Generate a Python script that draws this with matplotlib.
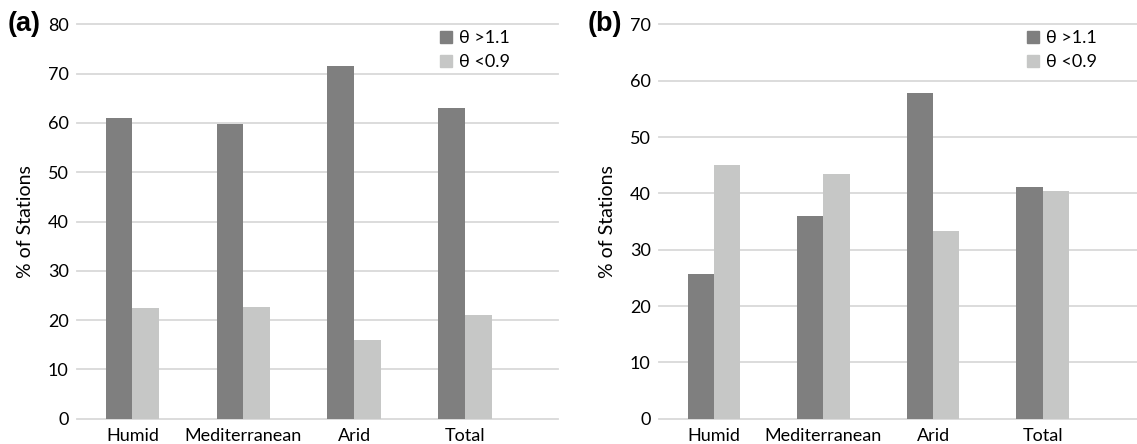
import matplotlib.pyplot as plt
import numpy as np
from matplotlib.patches import Patch

plt.rcParams['font.family'] = ['Lato', 'DejaVu Sans']

categories = ["Humid", "Mediterranean", "Arid", "Total"]
labels = ["\u03b8 >1.1", "\u03b8 <0.9"]

a_high = [61.1, 59.8, 71.5, 63.1]
a_low = [22.5, 22.6, 16.0, 21.1]
b_high = [25.7, 35.9, 57.9, 41.2]
b_low = [45.0, 43.5, 33.3, 40.5]

dark = "#7f7f7f"
light = "#c6c7c6"
grid_c = "#d9d9d9"


def draw(ax, high, low, ymax, xmax, tag, tag_x, leg_x):
    x = np.arange(len(categories))
    w = 0.24
    ax.bar(x - w / 2, high, w, color=dark, zorder=3)
    ax.bar(x + w / 2, low, w, color=light, zorder=3)
    ax.set_ylim(0, ymax)
    ax.set_xlim(-0.5, xmax)
    ax.set_yticks(range(0, ymax + 1, 10))
    ax.set_xticks(x)
    ax.set_xticklabels(categories, fontsize=13)
    ax.tick_params(axis="y", labelsize=13, length=0, pad=6)
    ax.tick_params(axis="x", length=0, pad=7)
    for s in ax.spines.values():
        s.set_visible(False)
    for v in range(0, ymax + 1, 10):
        ax.axhline(v, color=grid_c, lw=1.3, zorder=1, clip_on=False)
    ax.set_ylabel("% of Stations", fontsize=14, labelpad=10)
    ax.text(tag_x, 1.0, tag, transform=ax.transAxes, fontsize=19.5,
            fontweight="bold", ha="left", va="center",
            family=["Liberation Sans", "DejaVu Sans"])
    handles = [Patch(color=dark), Patch(color=light)]
    ax.legend(handles, labels, loc="upper left", bbox_to_anchor=(leg_x, 0.985),
              frameon=False, fontsize=13, handlelength=0.65, handleheight=0.65,
              handletextpad=0.4, labelspacing=0.45, borderpad=0, borderaxespad=0)


fig = plt.figure(figsize=(11.37, 4.44), dpi=100)
ax1 = fig.add_axes([0.0677, 0.057, 0.4231, 0.888])
ax2 = fig.add_axes([0.5796, 0.057, 0.4204, 0.888])

draw(ax1, a_high, a_low, 80, 3.84, "(a)", -0.145, 0.755)
draw(ax2, b_high, b_low, 70, 3.86, "(b)", -0.15, 0.77)

fig.savefig("out.png", dpi=100)
